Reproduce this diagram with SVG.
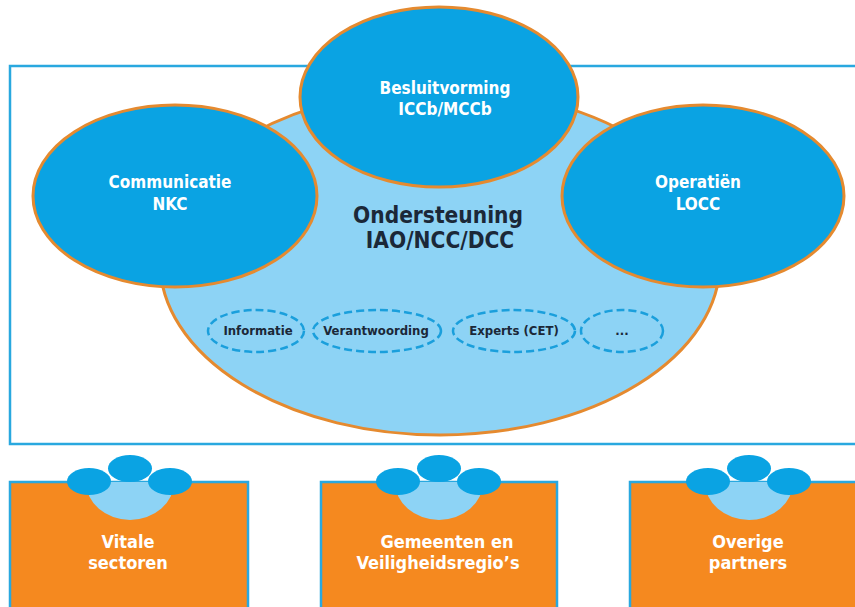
<svg xmlns="http://www.w3.org/2000/svg" width="855" height="607" viewBox="0 0 855 607">
<style>
text{font-family:'DejaVu Sans Condensed','DejaVu Sans',sans-serif;font-weight:bold;text-anchor:middle;font-stretch:condensed}
.wt{fill:#ffffff}
.nv{fill:#1b2838}
.main{fill:#0aa3e3;stroke:#e58a2f;stroke-width:3}
.sup{fill:#8dd3f5;stroke:#e58a2f;stroke-width:3}
.dash{fill:none;stroke:#1a9fdc;stroke-width:2.5;stroke-dasharray:8 4}
.box{fill:#f5891f;stroke:#29a8df;stroke-width:2.5}
.lb{fill:#8dd3f5}
.bl{fill:#0aa3e3}
</style>
<rect id="frame" x="10" y="66" width="870" height="378" fill="#ffffff" stroke="#29a8df" stroke-width="2.5"/>
<g id="ondersteuning">
<ellipse class="sup" cx="440" cy="262" rx="280" ry="173"/>
<text class="nv" x="438" y="223" font-size="22.5">Ondersteuning</text>
<text class="nv" x="440" y="248" font-size="22.5">IAO/NCC/DCC</text>
</g>
<g id="communicatie">
<ellipse class="main" cx="175" cy="196" rx="142" ry="91"/>
<text class="wt" x="170" y="188" font-size="17">Communicatie</text>
<text class="wt" x="170" y="210" font-size="17">NKC</text>
</g>
<g id="besluitvorming">
<ellipse class="main" cx="439" cy="97" rx="139" ry="90"/>
<text class="wt" x="445" y="94" font-size="17">Besluitvorming</text>
<text class="wt" x="445" y="115" font-size="17">ICCb/MCCb</text>
</g>
<g id="operatien">
<ellipse class="main" cx="703" cy="196" rx="141" ry="91"/>
<text class="wt" x="698" y="188" font-size="17">Operatiën</text>
<text class="wt" x="698" y="210" font-size="17">LOCC</text>
</g>
<g id="informatie">
<ellipse class="dash" cx="256" cy="331" rx="48" ry="21"/>
<text class="nv" x="258" y="335" font-size="13">Informatie</text>
</g>
<g id="verantwoording">
<ellipse class="dash" cx="377" cy="331" rx="64" ry="21"/>
<text class="nv" x="376" y="335" font-size="13">Verantwoording</text>
</g>
<g id="experts">
<ellipse class="dash" cx="514" cy="331" rx="61" ry="21"/>
<text class="nv" x="514" y="335" font-size="13">Experts (CET)</text>
</g>
<g id="overig">
<ellipse class="dash" cx="622" cy="331" rx="41" ry="21"/>
<text class="nv" x="622" y="335" font-size="13">...</text>
</g>
<g id="vitale-sectoren">
<rect class="box" x="10" y="482" width="238" height="140"/>
<path class="lb" d="M86 482 A44 38 0 0 0 174 482 Z"/>
<ellipse class="bl" cx="89" cy="481.5" rx="22" ry="13.5"/>
<ellipse class="bl" cx="130" cy="468.5" rx="22" ry="13.5"/>
<ellipse class="bl" cx="170" cy="481.5" rx="22" ry="13.5"/>
<text class="wt" x="128" y="548" font-size="18">Vitale</text>
<text class="wt" x="128" y="569" font-size="18">sectoren</text>
</g>
<g id="gemeenten">
<rect class="box" x="321" y="482" width="236" height="140"/>
<path class="lb" d="M395 482 A44 38 0 0 0 483 482 Z"/>
<ellipse class="bl" cx="398" cy="481.5" rx="22" ry="13.5"/>
<ellipse class="bl" cx="439" cy="468.5" rx="22" ry="13.5"/>
<ellipse class="bl" cx="479" cy="481.5" rx="22" ry="13.5"/>
<text class="wt" x="447" y="548" font-size="18">Gemeenten en</text>
<text class="wt" x="438" y="569" font-size="18">Veiligheidsregio’s</text>
</g>
<g id="overige-partners">
<rect class="box" x="630" y="482" width="240" height="140"/>
<path class="lb" d="M705 482 A44 38 0 0 0 793 482 Z"/>
<ellipse class="bl" cx="708" cy="481.5" rx="22" ry="13.5"/>
<ellipse class="bl" cx="749" cy="468.5" rx="22" ry="13.5"/>
<ellipse class="bl" cx="789" cy="481.5" rx="22" ry="13.5"/>
<text class="wt" x="748" y="548" font-size="18">Overige</text>
<text class="wt" x="748" y="569" font-size="18">partners</text>
</g>
</svg>
